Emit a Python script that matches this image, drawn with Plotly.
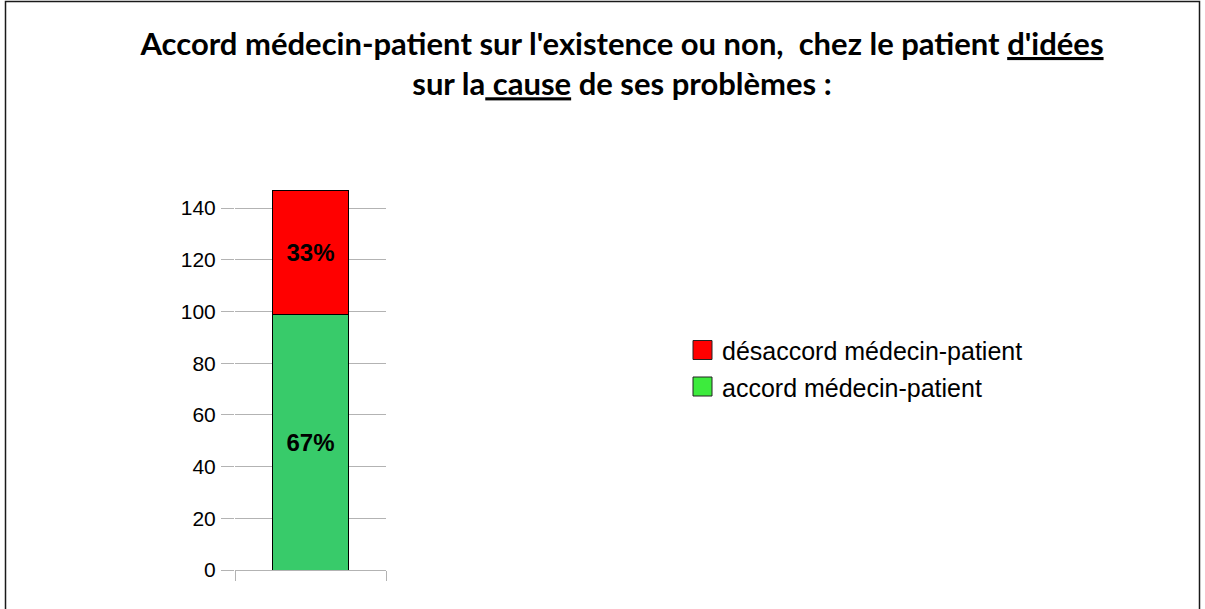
import plotly.graph_objects as go

# Data
category = ["Accord"]
series_names = ["accord médecin-patient", "désaccord médecin-patient"]
accord_values = [99]
desaccord_values = [48]
bar_colors = ["#38cb6a", "#ff0000"]
legend_colors = ["#3deb3d", "#ff0000"]
y_tick_values = [0, 20, 40, 60, 80, 100, 120, 140]

total = accord_values[0] + desaccord_values[0]
pct_accord = [f"{round(v / total * 100)}%" for v in accord_values]
pct_desaccord = [f"{round(v / total * 100)}%" for v in desaccord_values]

W, H = 1205, 609
L, R, T, B = 235, 386, 190, 570  # plot area in px


def px_x(px):
    return (px - L) / (R - L)


def px_y(py):
    return (B - py) / (B - T)


fig = go.Figure()

bar_text_font = dict(family="Liberation Sans, Arial, sans-serif", size=24, color="#000000")

fig.add_trace(go.Bar(
    x=[0], y=accord_values, name=series_names[0],
    marker=dict(color=bar_colors[0], line=dict(color="#000000", width=1)),
    text=pct_accord, textposition="inside", insidetextanchor="middle",
    textfont=bar_text_font, texttemplate="<b>%{text}</b>",
    width=0.5, showlegend=False, hoverinfo="skip",
))
fig.add_trace(go.Bar(
    x=[0], y=desaccord_values, name=series_names[1],
    marker=dict(color=bar_colors[1], line=dict(color="#000000", width=1)),
    text=pct_desaccord, textposition="inside", insidetextanchor="middle",
    textfont=bar_text_font, texttemplate="<b>%{text}</b>",
    width=0.5, showlegend=False, hoverinfo="skip",
))

shapes = []
annotations = []

# Manual legend (désaccord on top, accord below)
legend_items = [(series_names[1], legend_colors[1], 350), (series_names[0], legend_colors[0], 386.5)]
for name, col, cy in legend_items:
    shapes.append(dict(
        type="rect", xref="paper", yref="paper",
        x0=px_x(693), x1=px_x(712), y0=px_y(cy + 9.5), y1=px_y(cy - 9.5),
        fillcolor=col, line=dict(color="#222222", width=1),
    ))
    annotations.append(dict(
        xref="paper", yref="paper", x=px_x(720), y=px_y(cy + 1),
        xanchor="left", yanchor="middle", text=name, showarrow=False,
        font=dict(family="Liberation Sans, Arial, sans-serif", size=25, color="#000000"),
    ))

# Outer border of the chart frame
shapes.append(dict(
    type="path", xref="paper", yref="paper",
    path=(f"M {px_x(5.5)},{px_y(615)} L {px_x(5.5)},{px_y(1.5)} "
          f"L {px_x(1199.5)},{px_y(1.5)} L {px_x(1199.5)},{px_y(615)}"),
    line=dict(color="#1a1a1a", width=1.5),
))

fig.update_layout(
    width=W, height=H,
    margin=dict(l=L, r=W - R, t=T, b=H - B, pad=0),
    paper_bgcolor="#ffffff", plot_bgcolor="#ffffff",
    barmode="stack", bargap=0.5,
    title=dict(
        text=("Accord médecin-patient sur l'existence ou non,\u00a0 chez le patient <u>d'idées</u>"
              "<br>sur la<u>\u00a0cause</u> de ses problèmes :"),
        x=622 / W, xanchor="center", xref="container",
        y=1 - 55 / H, yanchor="top", yref="container",
        font=dict(family="Lato, sans-serif", size=31, color="#000000", weight="bold"),
    ),
    xaxis=dict(
        range=[-0.5, 0.5], tickvals=[-0.5, 0.5], ticktext=["", ""],
        showgrid=True, gridcolor="#b3b3b3", gridwidth=1,
        ticks="outside", ticklen=10, tickcolor="#b3b3b3",
        showline=False, zeroline=False, fixedrange=True,
    ),
    yaxis=dict(
        range=[0, 147], tickvals=y_tick_values,
        showgrid=True, gridcolor="#b3b3b3", gridwidth=1,
        ticks="outside", ticklen=13, tickcolor="#b3b3b3",
        zeroline=True, zerolinecolor="#b3b3b3", zerolinewidth=1,
        showline=False, ticklabelstandoff=1,
        tickfont=dict(family="Liberation Sans, Arial, sans-serif", size=21, color="#000000"),
        fixedrange=True,
    ),
    shapes=shapes,
    annotations=annotations,
    showlegend=False,
)

fig.write_html(
    "out.html",
    config={"displayModeBar": False},
    post_script="document.body.style.margin='0';document.body.style.overflow='hidden';",
)
